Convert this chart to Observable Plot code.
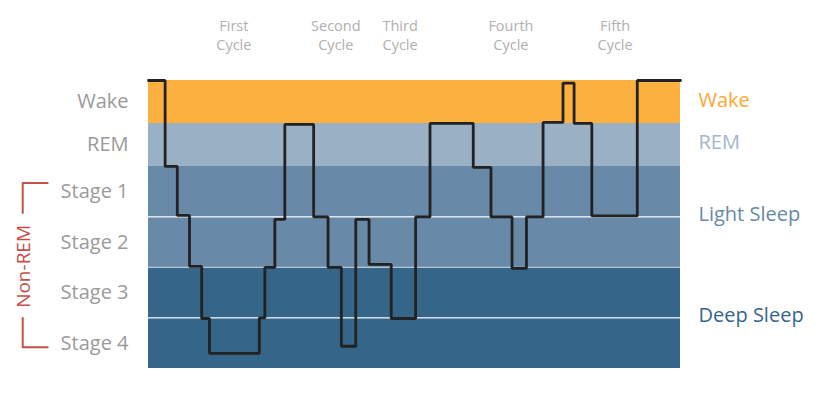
<!DOCTYPE html>
<html>
<head>
<meta charset="utf-8">
<script src="https://cdn.jsdelivr.net/npm/d3@7"></script>
<script src="https://cdn.jsdelivr.net/npm/@observablehq/plot@0.6"></script>
<style>
  html, body { margin: 0; padding: 0; background: #fff; }
  #chart svg { display: block; }
</style>
</head>
<body>
<div id="chart"></div>
<script>
// Stage bands (depth units from top; NREM stage = 1 unit)
const bandNames  = ["Wake", "REM", "Stage 1", "Stage 2", "Stage 3", "Stage 4"];
const bandTop    = [0, 0.85, 1.7, 2.7, 3.7, 4.7];
const bandBottom = [0.85, 1.7, 2.7, 3.7, 4.7, 5.7];
const bandFill   = ["#fbb040", "#9ab0c4", "#6889a7", "#6889a7", "#36658a", "#36658a"];

// Group labels on the right
const groupNames  = ["Wake", "REM", "Light Sleep", "Deep Sleep"];
const groupDepth  = [0.4, 1.23, 2.65, 4.65];
const groupColors = ["#f9a833", "#a3b7ca", "#6889a7", "#36658a"];

// Hypnogram: minutes since sleep onset and depth
const times  = [0, 15, 26, 37, 48, 55, 100, 105, 114, 123, 149, 162, 174, 187, 199, 219, 241, 254, 293, 309, 328, 341, 356, 374, 384, 400, 441, 480];
const depths = [0, 1.7, 2.67, 3.68, 4.71, 5.4, 4.7, 3.7, 2.75, 0.87, 2.7, 3.7, 5.26, 2.75, 3.64, 4.71, 2.7, 0.85, 1.72, 2.7, 3.72, 2.7, 0.83, 0.05, 0.85, 2.68, 0, 0];

// Cycle labels
const cycleNames = ["First\nCycle", "Second\nCycle", "Third\nCycle", "Fourth\nCycle", "Fifth\nCycle"];
const cycleTimes = [77, 169, 227, 327, 421];

const xMax = 480;
const bands = bandNames.map((n, i) => ({name: n, top: bandTop[i], bottom: bandBottom[i], fill: bandFill[i], mid: (bandTop[i] + bandBottom[i]) / 2}));
const groups = groupNames.map((n, i) => ({name: n, depth: groupDepth[i], color: groupColors[i]}));
const hypno = times.map((t, i) => ({t, depth: depths[i]}));
const cycles = cycleNames.map((n, i) => ({name: n, t: cycleTimes[i]}));

const FONT = "'Open Sans', 'Noto Sans', sans-serif";
const red = "#c4504a";

// Non-REM bracket (in minutes/depth, placed in left margin)
const bx = -113.5, bxEnd = -91;
const bracketTop = [{x: bxEnd, y: 2.03}, {x: bx, y: 2.03}, {x: bx, y: 2.62}];
const bracketBottom = [{x: bx, y: 4.7}, {x: bx, y: 5.28}, {x: bxEnd, y: 5.28}];

const chart = Plot.plot({
  width: 822,
  height: 394,
  marginLeft: 148,
  marginRight: 142,
  marginTop: 80,
  marginBottom: 26,
  style: {fontFamily: FONT, background: "#fff"},
  x: {domain: [0, xMax], axis: null},
  y: {domain: [0, 5.7], reverse: true, axis: null},
  marks: [
    Plot.rect(bands, {x1: () => 0, x2: () => xMax, y1: "top", y2: "bottom", fill: "fill"}),
    Plot.ruleY([0.85], {stroke: "#b9a58a", strokeOpacity: 0.5, strokeWidth: 1}),
    Plot.ruleY([2.7, 4.7], {stroke: "#ffffff", strokeWidth: 1.3, strokeOpacity: 0.9}),
    Plot.ruleY([3.7], {stroke: "#b7c6d4", strokeWidth: 1.3}),
    Plot.line(hypno, {x: "t", y: "depth", curve: "step-after", stroke: "#222", strokeWidth: 2.8, strokeLinejoin: "miter"}),
    Plot.text(bands, {x: () => 0, y: "mid", text: "name", textAnchor: "end", lineAnchor: "middle", dx: -20, fontSize: 20, fill: "#9a9a9a"}),
    Plot.text(groups, {x: () => xMax, y: "depth", text: "name", textAnchor: "start", lineAnchor: "middle", dx: 18, fontSize: 20, fill: "color"}),
    Plot.text(cycles, {x: "t", text: "name", frameAnchor: "top", lineAnchor: "middle", dy: -46.5, fontSize: 14.5, lineHeight: 1.33, fill: "#b0b0b0"}),
    Plot.line(bracketTop, {x: "x", y: "y", stroke: red, strokeWidth: 2}),
    Plot.line(bracketBottom, {x: "x", y: "y", stroke: red, strokeWidth: 2}),
    Plot.text(["Non-REM"], {x: () => -112.5, y: () => 3.68, text: d => d, rotate: -90, textAnchor: "middle", lineAnchor: "middle", fontSize: 19, fill: red})
  ]
});
document.getElementById("chart").appendChild(chart);
</script>
</body>
</html>
